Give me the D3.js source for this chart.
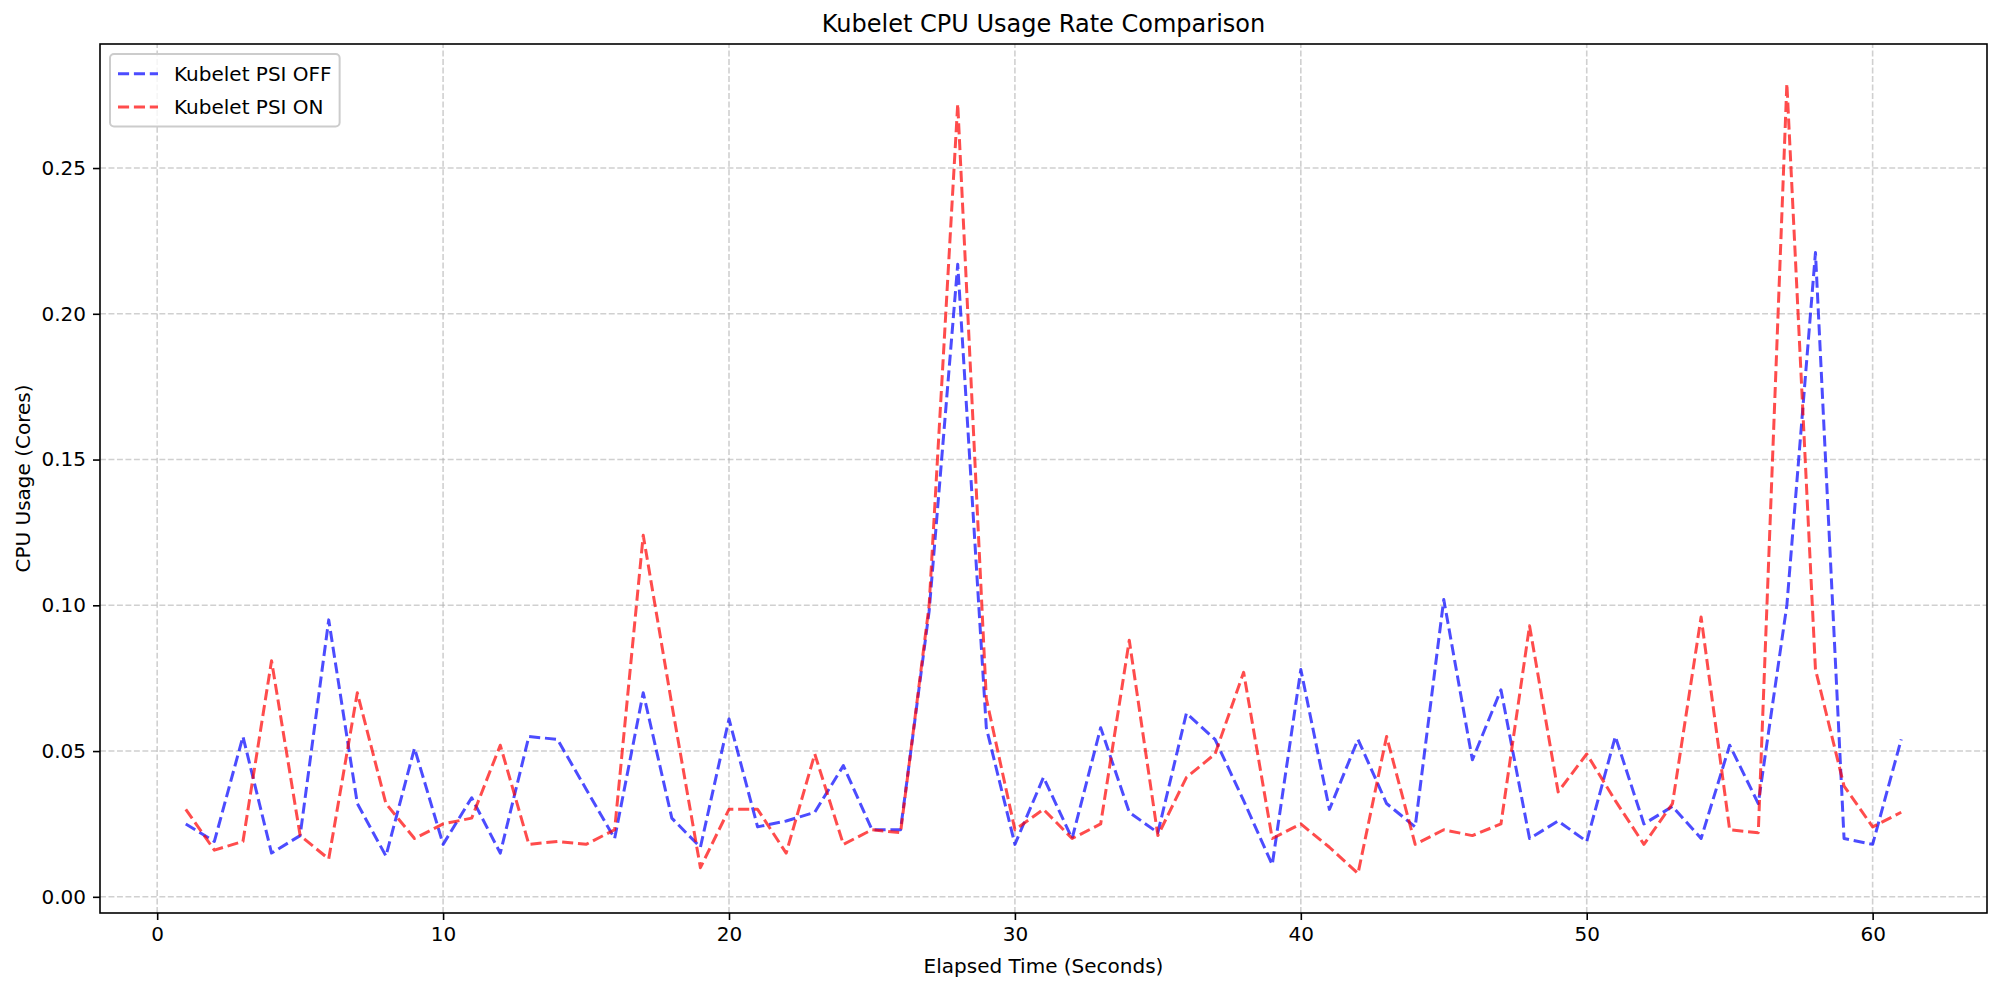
<!DOCTYPE html>
<html>
<head>
<meta charset="utf-8">
<script src="https://cdn.jsdelivr.net/npm/d3@7"></script>
<style>
  body { margin: 0; background: #fff; }
  svg { display: block; font-family: "DejaVu Sans", sans-serif; }
</style>
</head>
<body>
<svg id="chart" width="2000" height="990"></svg>
<script>
// elapsed seconds, 1..61
const seconds = [
  1, 2, 3, 4, 5, 6, 7, 8, 9, 10, 11, 12, 13, 14, 15, 16, 17, 18, 19, 20,
  21, 22, 23, 24, 25, 26, 27, 28, 29, 30, 31, 32, 33, 34, 35, 36, 37, 38, 39, 40,
  41, 42, 43, 44, 45, 46, 47, 48, 49, 50, 51, 52, 53, 54, 55, 56, 57, 58, 59, 60, 61
]

// CPU usage (cores)
const psiOff = [
  0.025, 0.019, 0.055, 0.015, 0.021, 0.095, 0.032, 0.014, 0.051, 0.018,
  0.034, 0.015, 0.055, 0.054, 0.037, 0.020, 0.070, 0.027, 0.017, 0.061,
  0.024, 0.026, 0.029, 0.045, 0.023, 0.023, 0.098, 0.217, 0.058, 0.018,
  0.041, 0.020, 0.058, 0.029, 0.022, 0.063, 0.054, 0.033, 0.011, 0.078,
  0.030, 0.054, 0.032, 0.024, 0.102, 0.047, 0.071, 0.020, 0.026, 0.019,
  0.055, 0.025, 0.031, 0.020, 0.052, 0.032, 0.100, 0.221, 0.020, 0.018, 0.054
]

const psiOn = [
  0.030, 0.016, 0.019, 0.081, 0.021, 0.013, 0.070, 0.032, 0.020, 0.025,
  0.027, 0.052, 0.018, 0.019, 0.018, 0.023, 0.124, 0.066, 0.010, 0.030,
  0.030, 0.015, 0.049, 0.018, 0.023, 0.022, 0.100, 0.272, 0.068, 0.023,
  0.030, 0.020, 0.025, 0.088, 0.021, 0.041, 0.049, 0.077, 0.020, 0.025,
  0.017, 0.008, 0.055, 0.018, 0.023, 0.021, 0.025, 0.093, 0.036, 0.049,
  0.033, 0.018, 0.032, 0.096, 0.023, 0.022, 0.279, 0.078, 0.038, 0.024, 0.029
]

const xTicks = [0, 10, 20, 30, 40, 50, 60]
const yTicks = [0.00, 0.05, 0.10, 0.15, 0.20, 0.25]

const series = [
  { label: 'Kubelet PSI OFF', color: 'blue', values: psiOff },
  { label: 'Kubelet PSI ON', color: 'red', values: psiOn }
]

// px per pt (144 dpi)
const PT = 2
const fontSize = 10 * PT

const margin = { left: 100, right: 13, top: 44, bottom: 77 }
const width = 2000
const height = 990

const svg = d3.select('#chart')

// 5% margins around the data, like matplotlib autoscale
const xMin = d3.min(seconds)
const xMax = d3.max(seconds)
const xPad = (xMax - xMin) * 0.05
const allVals = psiOff.concat(psiOn)
const yMin = d3.min(allVals)
const yMax = d3.max(allVals)
const yPad = (yMax - yMin) * 0.05

const xScale = d3.scaleLinear()
  .domain([xMin - xPad, xMax + xPad])
  .range([margin.left, width - margin.right])

const yScale = d3.scaleLinear()
  .domain([yMin - yPad, yMax + yPad])
  .range([height - margin.bottom, margin.top])

const x0 = margin.left
const x1 = width - margin.right
const y0 = height - margin.bottom
const y1 = margin.top

// grid
const grid = svg.append('g')
  .attr('stroke', '#b0b0b0')
  .attr('stroke-opacity', 0.6)
  .attr('stroke-width', 0.8 * PT)
  .attr('stroke-dasharray', [3.7 * 0.8 * PT, 1.6 * 0.8 * PT].join(','))

grid.selectAll('line.vgrid')
  .data(xTicks)
  .join('line')
  .attr('class', 'vgrid')
  .attr('x1', d => xScale(d))
  .attr('x2', d => xScale(d))
  .attr('y1', y0)
  .attr('y2', y1)

grid.selectAll('line.hgrid')
  .data(yTicks)
  .join('line')
  .attr('class', 'hgrid')
  .attr('x1', x0)
  .attr('x2', x1)
  .attr('y1', d => yScale(d))
  .attr('y2', d => yScale(d))

// series lines
const line = d3.line()
  .x((d, i) => xScale(seconds[i]))
  .y(d => yScale(d))

svg.append('g')
  .selectAll('path')
  .data(series)
  .join('path')
  .attr('fill', 'none')
  .attr('stroke', d => d.color)
  .attr('stroke-opacity', 0.7)
  .attr('stroke-width', 1.5 * PT)
  .attr('stroke-dasharray', [3.7 * 1.5 * PT, 1.6 * 1.5 * PT].join(','))
  .attr('stroke-linejoin', 'round')
  .attr('d', d => line(d.values))

// axes
const xAxis = d3.axisBottom(xScale)
  .tickValues(xTicks)
  .tickSize(3.5 * PT)
  .tickPadding(3.5 * PT)
  .tickFormat(d3.format('d'))

const yAxis = d3.axisLeft(yScale)
  .tickValues(yTicks)
  .tickSize(3.5 * PT)
  .tickPadding(3.5 * PT)
  .tickFormat(d3.format('.2f'))

const gx = svg.append('g')
  .attr('transform', `translate(0,${y0})`)
  .call(xAxis)

const gy = svg.append('g')
  .attr('transform', `translate(${x0},0)`)
  .call(yAxis)

for (const g of [gx, gy]) {
  g.select('.domain').remove()
  g.selectAll('.tick line')
    .attr('stroke', '#000')
    .attr('stroke-width', 0.8 * PT)
  g.selectAll('.tick text')
    .attr('fill', '#000')
    .attr('font-size', fontSize)
    .attr('font-family', '"DejaVu Sans", sans-serif')
}

// spines
svg.append('rect')
  .attr('x', x0)
  .attr('y', y1)
  .attr('width', x1 - x0)
  .attr('height', y0 - y1)
  .attr('fill', 'none')
  .attr('stroke', '#000')
  .attr('stroke-width', 0.8 * PT)

// title and axis labels
svg.append('text')
  .attr('x', (x0 + x1) / 2)
  .attr('y', y1 - 6 * PT)
  .attr('text-anchor', 'middle')
  .attr('font-size', 12 * PT)
  .text('Kubelet CPU Usage Rate Comparison')

svg.append('text')
  .attr('x', (x0 + x1) / 2)
  .attr('y', 973)
  .attr('text-anchor', 'middle')
  .attr('font-size', fontSize)
  .text('Elapsed Time (Seconds)')

svg.append('text')
  .attr('transform', `translate(30,${(y0 + y1) / 2}) rotate(-90)`)
  .attr('text-anchor', 'middle')
  .attr('font-size', fontSize)
  .text('CPU Usage (Cores)')

// legend, upper left
const pad = 0.5 * fontSize
const borderPad = 0.4 * fontSize
const handleLen = 2.0 * fontSize
const handleGap = 0.8 * fontSize
const rowH = 1.164 * fontSize
const rowGap = 0.5 * fontSize

const legend = svg.append('g')
  .attr('transform', `translate(${x0 + pad},${y1 + pad})`)

const frame = legend.append('rect')
  .attr('rx', 0.2 * fontSize)
  .attr('ry', 0.2 * fontSize)
  .attr('fill', '#fff')
  .attr('fill-opacity', 0.8)
  .attr('stroke', '#cccccc')
  .attr('stroke-width', 1.0 * PT)

const items = legend.selectAll('g.item')
  .data(series)
  .join('g')
  .attr('class', 'item')
  .attr('transform', (d, i) => `translate(${borderPad},${borderPad + i * (rowH + rowGap)})`)

items.append('line')
  .attr('x1', 0)
  .attr('x2', handleLen)
  .attr('y1', rowH * 0.5)
  .attr('y2', rowH * 0.5)
  .attr('stroke', d => d.color)
  .attr('stroke-opacity', 0.7)
  .attr('stroke-width', 1.5 * PT)
  .attr('stroke-dasharray', [3.7 * 1.5 * PT, 1.6 * 1.5 * PT].join(','))

items.append('text')
  .attr('x', handleLen + handleGap)
  .attr('y', rowH - 0.236 * fontSize)
  .attr('font-size', fontSize)
  .text(d => d.label)

let textW = 0
items.selectAll('text').each(function () {
  textW = Math.max(textW, this.getComputedTextLength())
})

frame
  .attr('width', borderPad * 2 + handleLen + handleGap + textW)
  .attr('height', borderPad * 2 + rowH * 2 + rowGap)
</script>
</body>
</html>
